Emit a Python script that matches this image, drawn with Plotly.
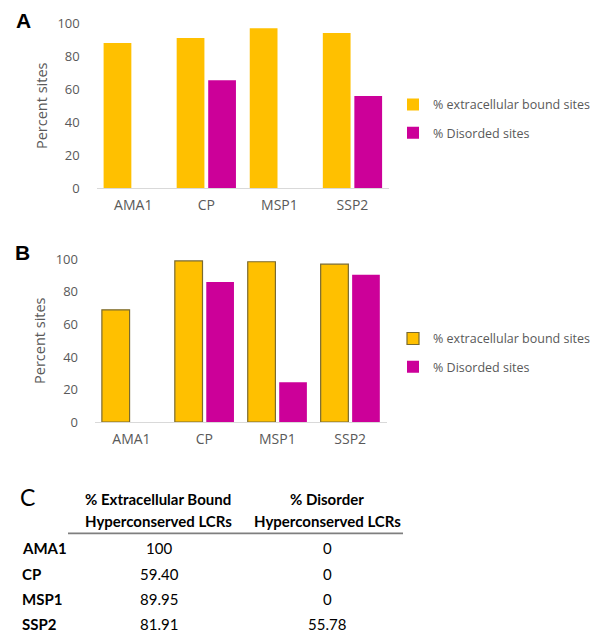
import plotly.graph_objects as go

# ---------------- data ----------------
categories = ["AMA1", "CP", "MSP1", "SSP2"]
a_extracellular = [88, 91, 97, 94]
a_disordered = [0, 65.5, 0, 56]
b_extracellular = [69, 99, 98.5, 97]
b_disordered = [0, 86, 24.5, 90.5]
y_ticks = [0, 20, 40, 60, 80, 100]

table_rows = ["AMA1", "CP", "MSP1", "SSP2"]
table_col1 = ["100", "59.40", "89.95", "81.91"]
table_col2 = ["0", "0", "0", "55.78"]
table_head1 = ["% Extracellular Bound", "Hyperconserved LCRs"]
table_head2 = ["% Disorder", "Hyperconserved LCRs"]

series_names = ["% extracellular bound sites", "% Disorded sites"]

# ---------------- style ----------------
W, H = 610, 634
YELLOW = "#FFC000"
MAGENTA = "#CC0099"
GRAY = "#595959"
AXIS_FONT = "Open Sans, Lato, sans-serif"
TABLE_FONT = "Lato, Open Sans, sans-serif"

# measured vertical page offset/scale of the captured page
Y_OFF, Y_SCALE = 8.5, 0.9736


def px_x(x):
    return x / W


def px_y(y):
    return 1 - ((y - Y_OFF) / Y_SCALE) / H


fig = go.Figure()

# Panel A
fig.add_trace(go.Bar(x=categories, y=a_extracellular, name=series_names[0],
                     marker=dict(color=YELLOW, line=dict(width=0)),
                     xaxis="x", yaxis="y", legend="legend", legendgroup="a1"))
fig.add_trace(go.Bar(x=categories, y=a_disordered, name=series_names[1],
                     marker=dict(color=MAGENTA, line=dict(width=0)),
                     xaxis="x", yaxis="y", legend="legend", legendgroup="a2"))
# Panel B
fig.add_trace(go.Bar(x=categories, y=b_extracellular, name=series_names[0],
                     marker=dict(color=YELLOW, line=dict(width=1.2, color="#7a6a30")),
                     xaxis="x2", yaxis="y2", legend="legend2", legendgroup="b1"))
fig.add_trace(go.Bar(x=categories, y=b_disordered, name=series_names[1],
                     marker=dict(color=MAGENTA, line=dict(width=0)),
                     xaxis="x2", yaxis="y2", legend="legend2", legendgroup="b2"))

xaxis_common = dict(showline=True, linecolor="#d9d9d9", linewidth=1, ticks="",
                    showgrid=False, zeroline=False,
                    tickfont=dict(family=AXIS_FONT, size=14, color=GRAY),
                    ticklabelstandoff=4)
yaxis_common = dict(range=[0, 100], tickvals=y_ticks, showline=False, showgrid=False,
                    zeroline=False, ticks="",
                    tickfont=dict(family=AXIS_FONT, size=13, color=GRAY),
                    ticklabelstandoff=16,
                    title=dict(text="Percent sites", font=dict(family=AXIS_FONT, size=14.5, color=GRAY),
                               standoff=6))

legend_common = dict(font=dict(family=AXIS_FONT, size=12.5, color=GRAY),
                     bgcolor="rgba(0,0,0,0)", tracegroupgap=9, itemwidth=30,
                     xanchor="left", yanchor="top", traceorder="grouped")


def ann(text, x, y, size, family, xanchor="center", bold=False):
    if bold:
        text = "<b>" + text + "</b>"
    return dict(text=text, x=px_x(x), y=px_y(y), xref="paper", yref="paper",
                xanchor=xanchor, yanchor="middle", showarrow=False,
                font=dict(family=family, size=size, color="black"))


annotations = [
    ann("A", 23, 20, 21, "Liberation Sans, Arial", bold=True),
    ann("B", 22, 252, 21, "Liberation Sans, Arial", bold=True),
    ann("C", 27, 497, 23, TABLE_FONT),
    ann(table_head1[0], 158, 500, 15, TABLE_FONT, bold=True),
    ann(table_head1[1], 158, 521.5, 15, TABLE_FONT, bold=True),
    ann(table_head2[0], 327, 500, 15, TABLE_FONT, bold=True),
    ann(table_head2[1], 327, 521.5, 15, TABLE_FONT, bold=True),
]
row_y = [549, 575, 600, 625]
for i, row in enumerate(table_rows):
    annotations.append(ann(row, 20, row_y[i], 15, TABLE_FONT, xanchor="left", bold=True))
    annotations.append(ann(table_col1[i], 159, row_y[i], 15, TABLE_FONT))
    annotations.append(ann(table_col2[i], 327, row_y[i], 15, TABLE_FONT))

shapes = [dict(type="line", xref="paper", yref="paper", x0=px_x(68), x1=px_x(403),
               y0=px_y(534), y1=px_y(534), line=dict(color="#7f7f7f", width=1.8))]

fig.update_layout(
    width=W, height=H,
    margin=dict(l=0, r=0, t=0, b=0),
    paper_bgcolor="white", plot_bgcolor="white",
    barmode="group", bargap=0.137, bargroupgap=0.12,
    xaxis=dict(domain=[px_x(96.7), px_x(389)], anchor="y", **xaxis_common),
    yaxis=dict(domain=[px_y(188.3), px_y(22.7)], anchor="x", **yaxis_common),
    xaxis2=dict(domain=[px_x(95), px_x(386.7)], anchor="y2", **xaxis_common),
    yaxis2=dict(domain=[px_y(422.5), px_y(259.3)], anchor="x2", **yaxis_common),
    legend=dict(x=px_x(393), y=px_y(89.5), **legend_common),
    legend2=dict(x=px_x(393), y=px_y(324), **legend_common),
    annotations=annotations,
    shapes=shapes,
    showlegend=True,
)

fig.write_html(
    "out.html",
    config={"displayModeBar": False},
    post_script=(
        "document.documentElement.style.margin='0';"
        "document.documentElement.style.padding='0';"
        "document.documentElement.style.overflow='hidden';"
        "document.body.style.margin='0';"
        "document.body.style.padding='0';"
        "document.body.style.overflow='hidden';"
    ),
)
